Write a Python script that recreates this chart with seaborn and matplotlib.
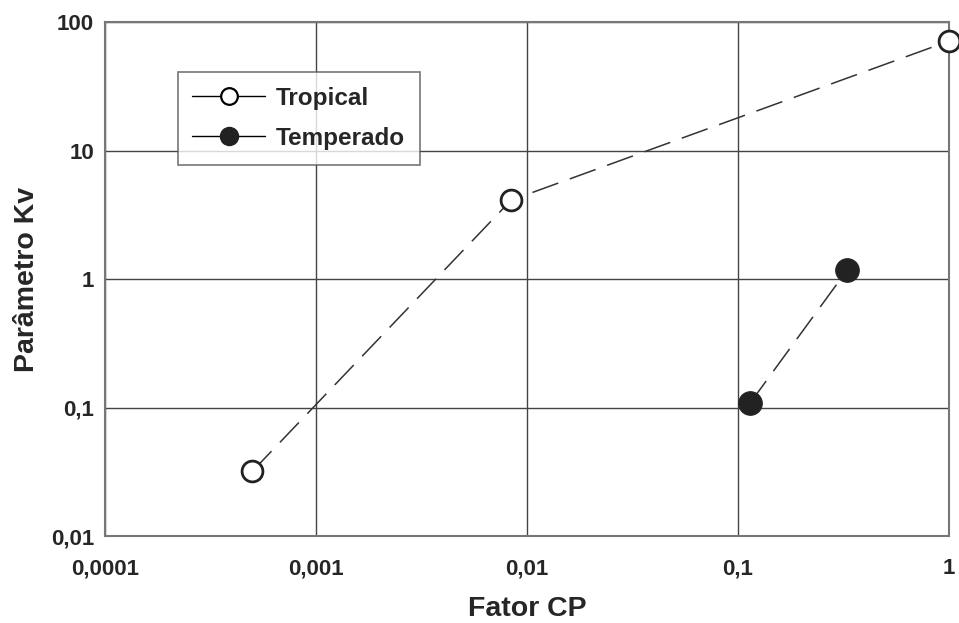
import seaborn as sns
import pandas as pd
import matplotlib.pyplot as plt
from matplotlib.lines import Line2D

# values
trop_cp = [0.0005, 0.0084, 1.0]
trop_kv = [0.032, 4.1, 71]
temp_cp = [0.114, 0.33]
temp_kv = [0.108, 1.18]

x_ticks = [0.0001, 0.001, 0.01, 0.1, 1]
x_labels = ["0,0001", "0,001", "0,01", "0,1", "1"]
y_ticks = [0.01, 0.1, 1, 10, 100]
y_labels = ["0,01", "0,1", "1", "10", "100"]

df = pd.DataFrame({
    "cp": trop_cp + temp_cp,
    "kv": trop_kv + temp_kv,
    "serie": ["Tropical"] * len(trop_cp) + ["Temperado"] * len(temp_cp),
})

sns.set_style("white")
plt.rcParams['font.family'] = ['Liberation Sans', 'DejaVu Sans']

fig = plt.figure(figsize=(9.59, 6.23), dpi=100)
ax = fig.add_axes([0.1095, 0.1396, 0.88, 0.8251])

dash = (0, (18, 8))
sub_t = df[df.serie == "Tropical"]
sub_p = df[df.serie == "Temperado"]
sns.lineplot(data=sub_t, x="cp", y="kv", ax=ax, color="#333333", lw=1.1,
             linestyle=dash, marker="o", markersize=15,
             markerfacecolor="white", markeredgecolor="#222222", markeredgewidth=2,
             legend=False, zorder=4, clip_on=False)
sns.lineplot(data=sub_p, x="cp", y="kv", ax=ax, color="#333333", lw=1.1,
             linestyle=dash, marker="o", markersize=17,
             markerfacecolor="#222222", markeredgecolor="#222222",
             legend=False, zorder=4, clip_on=False)

ax.set_xscale("log")
ax.set_yscale("log")
ax.set_xlim(0.0001, 1)
ax.set_ylim(0.01, 100)
ax.set_xticks(x_ticks)
ax.set_xticklabels(x_labels)
ax.set_yticks(y_ticks)
ax.set_yticklabels(y_labels)
ax.minorticks_off()
ax.tick_params(axis="both", length=0, labelsize=16, pad=8)
for lab in ax.get_xticklabels() + ax.get_yticklabels():
    lab.set_fontweight("bold")
ax.tick_params(axis="x", pad=16)

ax.grid(True, color="#444444", lw=1.0)
for s in ax.spines.values():
    s.set_color("#777777")
    s.set_linewidth(1.5)

ax.set_xlabel("Fator CP", fontsize=20.5, fontweight="bold", labelpad=12)
ax.set_ylabel("Parâmetro Kv", fontsize=20.5, fontweight="bold", labelpad=8)

handles = [
    Line2D([], [], color="black", lw=1, marker="o", markersize=12,
           markerfacecolor="white", markeredgecolor="black", markeredgewidth=1.6),
    Line2D([], [], color="black", lw=1, marker="o", markersize=13,
           markerfacecolor="#222222", markeredgecolor="#222222"),
]
leg = ax.legend(handles, ["Tropical", "Temperado"], loc="upper left",
                bbox_to_anchor=(0.086, 0.902), frameon=True, fancybox=False,
                handlelength=3.0, prop={"weight": "bold", "size": 17.5},
                borderpad=0.6, labelspacing=0.7, handletextpad=0.45,
                borderaxespad=0)
leg.get_frame().set_edgecolor("#555555")
leg.get_frame().set_linewidth(1.2)
leg.set_zorder(5)

fig.savefig("out.png", dpi=100)
